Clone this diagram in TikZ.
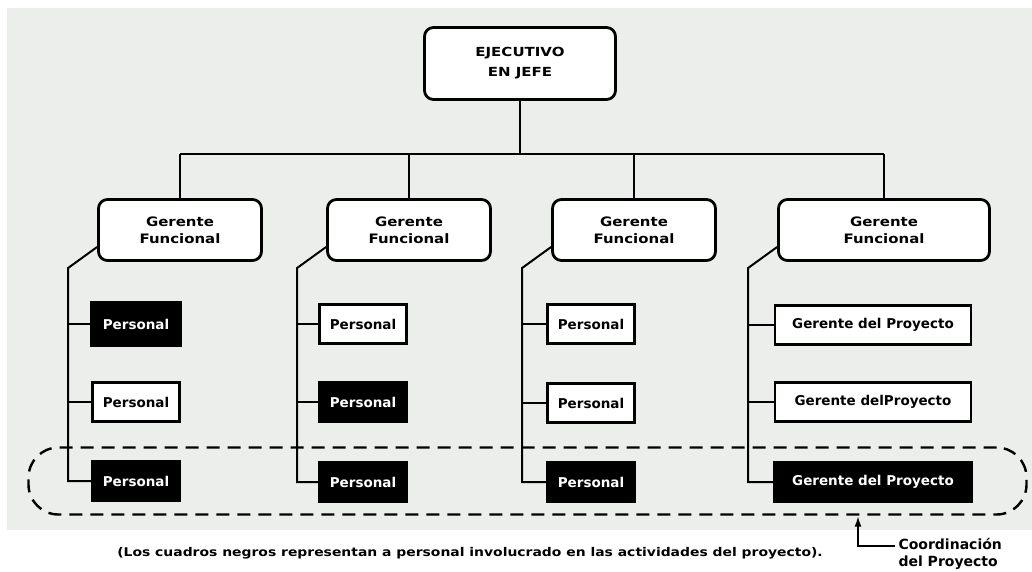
\documentclass[tikz,border=0pt]{standalone}
\usepackage{fontspec}
\setmainfont{DejaVu Sans}
\usetikzlibrary{shapes,arrows,arrows.meta,positioning,calc}
\usepackage{xcolor}
\definecolor{scan}{HTML}{ECEEEC}

\tikzset{
  jefe/.style={draw, fill=white, line width=2.8pt, rounded corners=9pt,
    minimum width=191pt, minimum height=72pt, align=center,
    font=\bfseries\fontsize{12.5}{20}\selectfont\addfontfeature{FakeStretch=1.2}},
  gerente/.style={draw, fill=white, line width=2.8pt, rounded corners=9pt,
    minimum width=163pt, minimum height=61pt, align=center,
    font=\bfseries\fontsize{13}{17}\selectfont\addfontfeature{FakeStretch=1.15}},
  personal/.style={draw, fill=white, line width=2.8pt,
    minimum width=87pt, minimum height=39pt,
    font=\bfseries\fontsize{13.5}{16}\selectfont},
  clave/.style={personal, fill=black, text=white},
  linea/.style={line width=2pt},
  zona/.style={draw, line width=2.4pt, dash pattern=on 13pt off 8pt,
    rounded corners=30pt, minimum width=998pt, minimum height=67pt},
  nota/.style={font=\bfseries\fontsize{12}{14}\selectfont\addfontfeature{FakeStretch=1.16}},
}

\begin{document}
\begin{tikzpicture}[x=1pt, y=-1pt]
  % page and scanned area
  \fill[white] (0,0) rectangle (1032,571);
  \useasboundingbox (0,0) rectangle (1032,571);
  \fill[scan] (7,8) rectangle (1032,530);

  % top
  \node[jefe] (jefe) at (520,63.5) {EJECUTIVO\\EN JEFE};
  \coordinate (bar) at (0,154);

  % functional managers
  \node[gerente] (g1) at (180,230) {Gerente\\Funcional};
  \node[gerente] (g2) at (409,230) {Gerente\\Funcional};
  \node[gerente] (g3) at (634,230) {Gerente\\Funcional};
  \node[gerente, minimum width=211pt] (g4) at (884,230) {Gerente\\Funcional};

  % staff, black = involved in the project
  \node[clave, minimum width=90pt, minimum height=43pt] (p11) at (136,324) {Personal};
  \node[personal] (p12) at (136,402) {Personal};
  \node[clave] (p13) at (136,481) {Personal};
  \node[personal] (p21) at (363,324) {Personal};
  \node[clave] (p22) at (363,402) {Personal};
  \node[clave] (p23) at (363,482) {Personal};
  \node[personal] (p31) at (591,324) {Personal};
  \node[personal] (p32) at (591,403) {Personal};
  \node[clave] (p33) at (591,482) {Personal};
  \node[personal, minimum width=196pt] (p41) at (873,325) {Gerente del Proyecto};
  \node[personal, minimum width=196pt] (p42) at (873,402) {Gerente delProyecto};
  \node[clave, minimum width=197pt] (p43) at (873,482) {Gerente del Proyecto};

  % connectors
  \draw[linea] (jefe.south) -- (jefe.south |- bar);
  \draw[linea] (g1.north |- bar) -- (g4.north |- bar);
  \foreach \c in {1,...,4} {
    \draw[linea] (g\c.north) -- (g\c.north |- bar);
    \draw[linea] ([yshift=-17pt]g\c.west) -- ++(-29,21) coordinate (k\c) |- (p\c3.west);
    \draw[linea] (k\c |- p\c1.west) -- (p\c1.west);
    \draw[linea] (k\c |- p\c2.west) -- (p\c2.west);
  }

  % project coordination
  \node[zona] (zona) at (527.5,481) {};
  \node[nota] (nota) at (470,553)
    {(Los cuadros negros representan a personal involucrado en las actividades del proyecto).};
  \node[anchor=west, align=left, font=\bfseries\fontsize{14}{17}\selectfont] (coord)
    at (895,554) {Coordinación\\del Proyecto};
  \draw[linea, -{Latex[length=11pt,width=7pt]}] ([yshift=8pt]coord.west)
    -| ([xshift=330.5pt]zona.south);
\end{tikzpicture}
\end{document}
